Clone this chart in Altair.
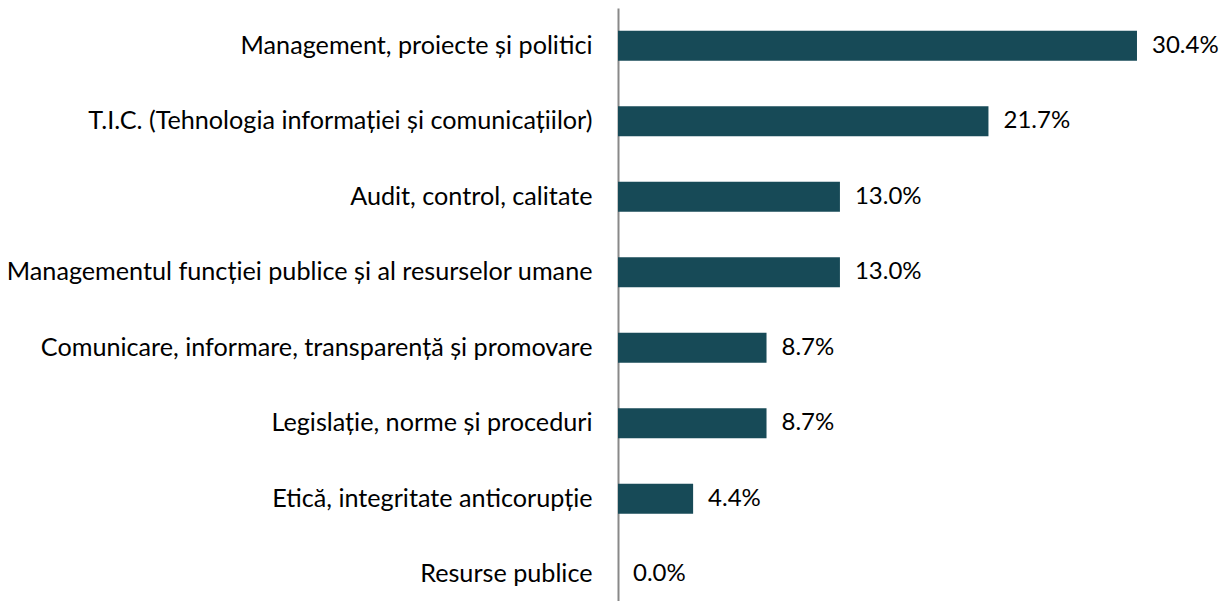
import altair as alt
import pandas as pd

categories = [
    "Management, proiecte și politici",
    "T.I.C. (Tehnologia informației și comunicațiilor)",
    "Audit, control, calitate",
    "Managementul funcției publice și al resurselor umane",
    "Comunicare, informare, transparență și promovare",
    "Legislație, norme și proceduri",
    "Etică, integritate anticorupție",
    "Resurse publice",
]
values = [30.4, 21.7, 13.0, 13.0, 8.7, 8.7, 4.4, 0.0]

df = pd.DataFrame({"cat": categories, "val": values})
df["label"] = [f"{v:.1f}%" for v in values]

FONT = "Lato"

y = alt.Y("cat:N", sort=categories, title=None,
          scale=alt.Scale(paddingInner=0.6, paddingOuter=0.3),
          axis=alt.Axis(labelFont=FONT, labelFontSize=25.2, labelColor="#000000",
                        labelPadding=26, ticks=False, domainColor="#898989",
                        domainWidth=2, labelLimit=1000))
x = alt.X("val:Q", title=None, scale=alt.Scale(domain=[0, 35.38], nice=False),
          axis=None)

bars = alt.Chart(df).mark_bar(color="#174A57").encode(x=x, y=y)
text = alt.Chart(df).mark_text(align="left", baseline="middle", dx=15,
                               font=FONT, fontSize=24, color="#000000").encode(
    x=x, y=alt.Y("cat:N", sort=categories), text="label:N")

chart = alt.layer(bars, text).properties(
    width=604, height=604,
    autosize=alt.AutoSizeParams(type="none"),
    padding={"left": 610, "top": 0, "right": 0, "bottom": 0},
).configure_view(stroke=None)

chart.save("out.html", embed_options={"renderer": "svg", "actions": False})
